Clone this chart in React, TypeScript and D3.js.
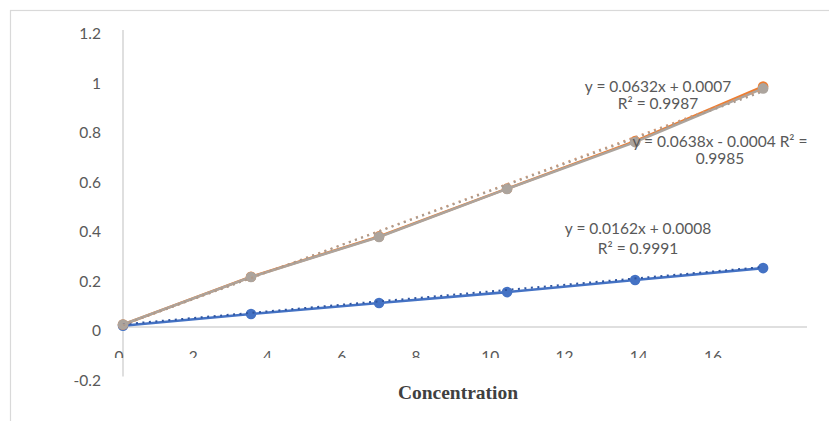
import * as d3 from "d3";

// concentrations (x)
const concentration = [0, 3.5, 7, 10.5, 14, 17.5];

// absorbance values per series
const blueValues = [0.005, 0.0525, 0.097, 0.141, 0.19, 0.238];
const orangeValues = [0.01, 0.203, 0.366, 0.559, 0.751, 0.972];
const grayValues = [0.01, 0.202, 0.364, 0.558, 0.747, 0.964];

const xTicks = [0, 2, 4, 6, 8, 10, 12, 14, 16];
const yTicks = [-0.2, 0, 0.2, 0.4, 0.6, 0.8, 1, 1.2];

const orangeLabel = ["y = 0.0632x + 0.0007", "R² = 0.9987"];
const grayLabel = ["y = 0.0638x - 0.0004 R² =", "0.9985"];
const blueLabel = ["y = 0.0162x + 0.0008", "R² = 0.9991"];

const W = 829;
const H = 421;

const x = d3.scaleLinear().domain([0, 18.7]).range([123, 807]);
const y = d3.scaleLinear().domain([-0.2, 1.2]).range([376.5, 30]);

const fit = (xs: number[], ys: number[]) => {
  const mx = d3.mean(xs)!;
  const my = d3.mean(ys)!;
  const b = d3.sum(xs, (v, i) => (v - mx) * (ys[i] - my)) / d3.sum(xs, (v) => (v - mx) ** 2);
  return { slope: b, icpt: my - b * mx };
};

const line = d3
  .line<[number, number]>()
  .x((d) => x(d[0]))
  .y((d) => y(d[1]));

const pairs = (vals: number[]) => concentration.map((c, i) => [c, vals[i]] as [number, number]);

const trendPath = (vals: number[]) => {
  const f = fit(concentration, vals);
  const x0 = concentration[0];
  const x1 = concentration[concentration.length - 1];
  return line([
    [x0, f.icpt + f.slope * x0],
    [x1, f.icpt + f.slope * x1],
  ]);
};

const series = [
  { name: "blue", vals: blueValues, color: "#4472c4", trend: "#2f55a0" },
  { name: "orange", vals: orangeValues, color: "#ed7d31", trend: "#d49a76" },
  { name: "gray", vals: grayValues, color: "#aca49d", trend: "#a89c92" },
];

const labelFont = "Lato, 'Open Sans', sans-serif";

export default function App() {
  return (
    <div style={{ position: "fixed", left: 0, top: 0 }}>
      <svg width={W} height={H} style={{ display: "block", background: "#fff" }}>
        <defs>
          <clipPath id="xlab">
            <rect x={0} y={340} width={W} height={18} />
          </clipPath>
        </defs>
        <rect x={10.5} y={10.5} width={W} height={H} fill="none" stroke="#d9d9d9" strokeWidth={1.2} />

        {/* axes */}
        <line x1={x(0)} x2={x(0)} y1={y(1.2)} y2={y(-0.2)} stroke="#bfbfbf" strokeWidth={1} />
        <line x1={x(0)} x2={807} y1={y(0)} y2={y(0)} stroke="#bfbfbf" strokeWidth={1} />

        {yTicks.map((t) => (
          <text
            key={t}
            x={101}
            y={y(t) + 9}
            textAnchor="end"
            fontFamily={labelFont}
            fontSize={15.5}
            fill="#595959"
          >
            {String(t)}
          </text>
        ))}

        {/* x tick labels are cut off at the bottom in the original */}
        <g clipPath="url(#xlab)">
          {xTicks.map((t) => (
            <text
              key={t}
              x={x(t) - 4 + t * 0.55}
              y={361.5}
              textAnchor="middle"
              fontFamily={labelFont}
              fontSize={15.5}
              fill="#595959"
            >
              {t}
            </text>
          ))}
        </g>

        <text
          x={458}
          y={399}
          textAnchor="middle"
          fontFamily="'Liberation Serif', 'Times New Roman', serif"
          fontWeight="bold"
          fontSize={19.5}
          fill="#404040"
        >
          Concentration
        </text>

        {/* series lines and markers */}
        {series.map((s) => (
          <g key={s.name}>
            <path d={line(pairs(s.vals))!} fill="none" stroke={s.color} strokeWidth={2.6} />
            {pairs(s.vals).map((d, i) => (
              <circle key={i} cx={x(d[0])} cy={y(d[1])} r={5.3} fill={s.color} />
            ))}
          </g>
        ))}

        {/* linear trendlines */}
        {series.map((s) => (
          <path
            key={s.name + "-trend"}
            d={trendPath(s.vals)!}
            fill="none"
            stroke={s.trend}
            strokeWidth={2}
            strokeDasharray="2 4.5"
            transform="translate(0,-1.5)"
          />
        ))}

        {/* trendline equations */}
        {[
          { lines: orangeLabel, cx: 658, cy: 92, gap: 17 },
          { lines: grayLabel, cx: 720, cy: 147, gap: 17 },
          { lines: blueLabel, cx: 638, cy: 234, gap: 20 },
        ].map((l, j) => (
          <g key={j}>
            {l.lines.map((tx, k) => (
              <text
                key={k}
                x={l.cx}
                y={l.cy + k * l.gap}
                textAnchor="middle"
                fontFamily={labelFont}
                fontSize={15.5}
                fill="#595959"
              >
                {tx}
              </text>
            ))}
          </g>
        ))}
      </svg>
    </div>
  );
}
